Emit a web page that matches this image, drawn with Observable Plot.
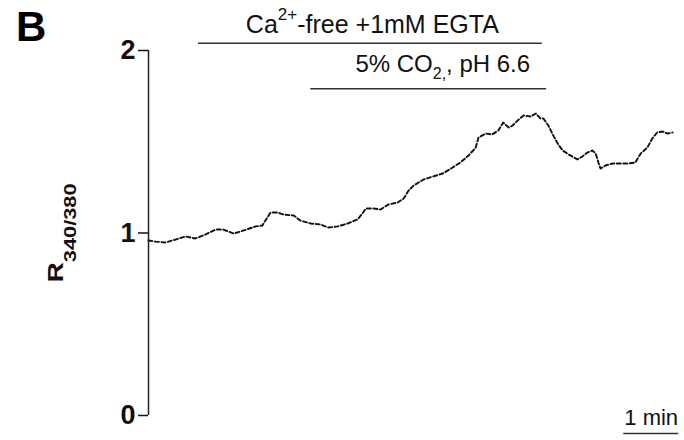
<!DOCTYPE html>
<html>
<head>
<meta charset="utf-8">
<script src="https://cdn.jsdelivr.net/npm/d3@7"></script>
<script src="https://cdn.jsdelivr.net/npm/@observablehq/plot@0.6"></script>
<style>
  html, body { margin: 0; padding: 0; background: #fff; }
  #wrap { position: relative; width: 684px; height: 440px; font-family: "Liberation Sans", Arial, sans-serif; }
  #wrap svg { display: block; }
  #panel { position: absolute; left: 16px; top: 6px; font-size: 42px; font-weight: bold; line-height: 42px; color: #000; }
</style>
</head>
<body>
<div id="wrap"></div>
<script>
// Fura-2 ratio trace (R340/380) against time in minutes
const timeMin = [
  0, 0.13, 0.31, 0.49, 0.67, 0.85, 1.04, 1.22, 1.36, 1.55, 1.73, 1.95, 2.07, 2.16, 2.22, 2.35,
  2.45, 2.64, 2.76, 2.95, 3.13, 3.27, 3.44, 3.62, 3.80, 3.89, 3.95, 4.09, 4.22, 4.36, 4.53, 4.64,
  4.73, 4.82, 5.00, 5.18, 5.35, 5.53, 5.67, 5.82, 5.95, 6.00, 6.13, 6.25, 6.36, 6.45, 6.55, 6.62,
  6.71, 6.82, 6.95, 7.04, 7.13, 7.18, 7.27, 7.36, 7.44, 7.53, 7.64, 7.80, 7.89, 7.98, 8.07, 8.13,
  8.18, 8.22, 8.31, 8.44, 8.58, 8.73, 8.85, 8.95, 9.07, 9.16, 9.25, 9.35, 9.44, 9.53
];
const ratio = [
  0.959, 0.953, 0.948, 0.964, 0.981, 0.970, 0.992, 1.019, 1.019, 0.997, 1.014, 1.036, 1.041, 1.085, 1.112, 1.112,
  1.101, 1.096, 1.068, 1.052, 1.047, 1.030, 1.036, 1.052, 1.074, 1.107, 1.134, 1.134, 1.129, 1.156, 1.167, 1.189,
  1.233, 1.260, 1.293, 1.310, 1.326, 1.359, 1.386, 1.425, 1.468, 1.523, 1.545, 1.540, 1.562, 1.605, 1.578, 1.589,
  1.616, 1.644, 1.638, 1.655, 1.627, 1.627, 1.589, 1.534, 1.490, 1.452, 1.430, 1.403, 1.419, 1.441, 1.452, 1.436,
  1.386, 1.353, 1.370, 1.381, 1.381, 1.381, 1.386, 1.436, 1.468, 1.518, 1.551, 1.556, 1.545, 1.551
];

// Perfusion periods (minutes)
const treatmentLabels = ["Ca2+-free +1mM EGTA", "5% CO2,, pH 6.6"];
const treatmentStart = [0.91, 2.95];
const treatmentEnd = [7.16, 7.24];

const yTicks = [0, 1, 2];
const yLabel = "R340/380";
const scaleBarStart = 8.64;
const scaleBarLength = 1;
const scaleBarLabel = "1 min";

// sub/superscript runs for the labels that need them
const richText = {
  "Ca2+-free +1mM EGTA": [{text: "Ca"}, {text: "2+", size: 17, shift: -13}, {text: "-free +1mM EGTA"}],
  "5% CO2,, pH 6.6": [{text: "5% CO"}, {text: "2,", size: 16, shift: 7}, {text: ", pH 6.6"}],
  "R340/380": [{text: "R"}, {text: "340/380", size: 17, shift: 13}]
};

const trace = timeMin.map((t, i) => ({t, r: ratio[i]}));
const treatments = treatmentLabels.map((label, i) => ({label, start: treatmentStart[i], end: treatmentEnd[i], row: i}));

// placement of the treatment bars and their labels
const barLevel = [2.04, 1.79];      // ratio units
const textLevel = [2.141, 1.922];   // ratio units
const textCenter = [4.07, 5.35];    // minutes
const textSize = [25, 24];

const chart = Plot.plot({
  width: 684,
  height: 440,
  marginLeft: 148,
  marginRight: 8,
  marginTop: 50,
  marginBottom: 25,
  x: {domain: [0, 9.6], axis: null},
  y: {domain: [0, 2]},
  style: {fontFamily: "'Liberation Sans', Arial, sans-serif", background: "#fff", overflow: "visible", color: "#111"},
  marks: [
    Plot.ruleX([0], {y1: 0, y2: 2, stroke: "#222", strokeWidth: 1.5}),
    Plot.axisY({
      ticks: yTicks, tickFormat: "d", tickSize: 10, tickPadding: 3,
      fontSize: 27, fontWeight: "bold", label: null, color: "#111", strokeWidth: 1.5
    }),
    Plot.line(trace, {x: "t", y: "r", stroke: "#111", strokeWidth: 1.9, strokeDasharray: "4,2.5"}),
    Plot.ruleY(treatments, {y: d => barLevel[d.row], x1: "start", x2: "end", stroke: "#333", strokeWidth: 1.5}),
    ...treatments.map(d => Plot.text([d], {
      x: () => textCenter[d.row], y: () => textLevel[d.row], text: "label",
      fontSize: textSize[d.row], fill: "#111"
    })),
    Plot.text([yLabel], {
      frameAnchor: "left", dx: -93, rotate: -90, textAnchor: "middle", lineAnchor: "middle",
      text: d => d, fontSize: 22, fontWeight: "bold", fill: "#111"
    }),
    Plot.ruleY([scaleBarStart], {y: () => -0.099, x1: d => d, x2: d => d + scaleBarLength, stroke: "#333", strokeWidth: 1.5}),
    Plot.text([scaleBarLabel], {x: () => scaleBarStart + scaleBarLength / 2, y: () => -0.016, text: d => d, fontSize: 22, fill: "#111"})
  ]
});

// turn plain labels into runs with sub/superscripts
const SVGNS = "http://www.w3.org/2000/svg";
chart.querySelectorAll("text").forEach(el => {
  const key = el.textContent;
  const parts = richText[key];
  if (!parts) return;
  el.textContent = "";
  let shift = 0;
  for (const p of parts) {
    const ts = document.createElementNS(SVGNS, "tspan");
    const target = p.shift || 0;
    if (target !== shift) ts.setAttribute("dy", target - shift);
    shift = target;
    if (p.size) ts.setAttribute("font-size", p.size);
    ts.textContent = p.text;
    el.appendChild(ts);
  }
  if (key === yLabel) {
    const tr = el.getAttribute("transform") || "";
    el.setAttribute("transform", tr + " scale(1.28,1)");
  }
});

const wrap = document.getElementById("wrap");
wrap.appendChild(chart);
const panel = document.createElement("div");
panel.id = "panel";
panel.textContent = "B";
wrap.appendChild(panel);
</script>
</body>
</html>
